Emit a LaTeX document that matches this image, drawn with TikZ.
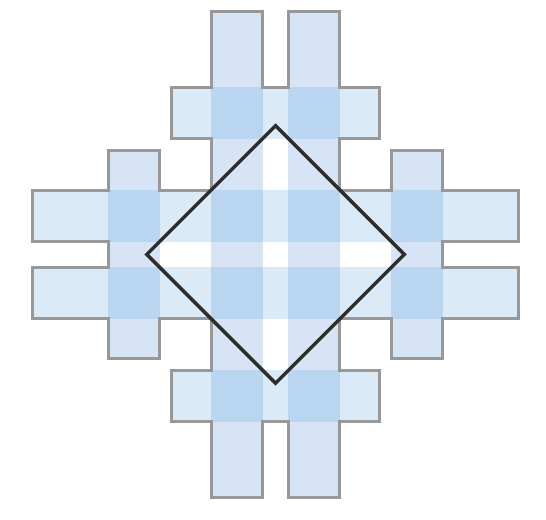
\documentclass[tikz,border=0pt]{standalone}
\usepackage{tikz}

\definecolor{vbarblue}{RGB}{91,147,215}
\definecolor{hbarblue}{RGB}{70,155,215}
\definecolor{edgegray}{RGB}{152,152,152}
\definecolor{diamondink}{RGB}{45,45,45}

\begin{document}
\begin{tikzpicture}[
    x=0.5cm, y=0.5cm,
    hbar/.style={fill=hbarblue, fill opacity=0.2},
    vbar/.style={fill=vbarblue, fill opacity=0.25},
    outline/.style={draw=edgegray, line width=1.65pt, line cap=square, line join=miter},
    diamondline/.style={draw=diamondink, line width=1.9pt, line join=miter}
]

\useasboundingbox (-10.70,-10.31) rectangle (10.50,9.88);

% Horizontal bars
\fill[hbar] (-9.42,0.5) rectangle (9.42,2.5);
\fill[hbar] (-9.42,-2.5) rectangle (9.42,-0.5);
\fill[hbar] (-4.05,4.5) rectangle (4.05,6.5);
\fill[hbar] (-4.05,-6.5) rectangle (4.05,-4.5);

% Vertical bars
\fill[vbar] (0.5,-9.42) rectangle (2.5,9.42);
\fill[vbar] (-2.5,-9.42) rectangle (-0.5,9.42);
\fill[vbar] (4.5,-4.05) rectangle (6.5,4.05);
\fill[vbar] (-6.5,-4.05) rectangle (-4.5,4.05);

% Outer edge, one quarter per turn
\foreach \a in {0,90,180,270}{
    \draw[outline, rotate=\a] (-2.5,2.5) -- (-2.5,4.5) -- (-4.05,4.5) -- (-4.05,6.5)
        -- (-2.5,6.5) -- (-2.5,9.42) -- (-0.5,9.42) -- (-0.5,6.5) -- (0.5,6.5)
        -- (0.5,9.42) -- (2.5,9.42) -- (2.5,6.5) -- (4.05,6.5) -- (4.05,4.5)
        -- (2.5,4.5) -- (2.5,2.5);
}

% Diamond
\draw[diamondline] (0,5) -- (5,0) -- (0,-5) -- (-5,0) -- cycle;

\end{tikzpicture}
\end{document}
